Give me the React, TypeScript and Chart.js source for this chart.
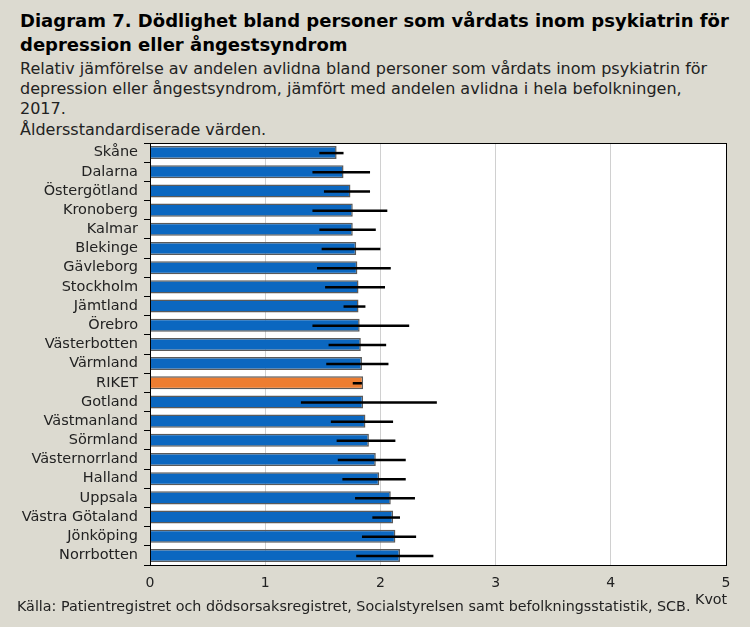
import React, { useEffect, useRef } from "react";
import { Chart, registerables } from "chart.js";

Chart.register(...registerables);

const categories = [
  "Skåne", "Dalarna", "Östergötland", "Kronoberg", "Kalmar", "Blekinge", "Gävleborg",
  "Stockholm", "Jämtland", "Örebro", "Västerbotten", "Värmland", "RIKET", "Gotland",
  "Västmanland", "Sörmland", "Västernorrland", "Halland", "Uppsala", "Västra Götaland",
  "Jönköping", "Norrbotten",
];
const values = [1.62, 1.68, 1.74, 1.76, 1.76, 1.79, 1.8, 1.81, 1.81, 1.82, 1.83, 1.84, 1.85, 1.85,
  1.87, 1.9, 1.96, 1.99, 2.09, 2.11, 2.13, 2.17];
const lower = [1.47, 1.41, 1.51, 1.41, 1.47, 1.49, 1.45, 1.52, 1.68, 1.41, 1.55, 1.53, 1.76, 1.31,
  1.57, 1.62, 1.63, 1.67, 1.78, 1.93, 1.84, 1.79];
const upper = [1.68, 1.91, 1.91, 2.06, 1.96, 2.0, 2.09, 2.04, 1.87, 2.25, 2.05, 2.07, 1.84, 2.49,
  2.11, 2.13, 2.22, 2.22, 2.3, 2.17, 2.31, 2.46];
const xTicks = [0, 1, 2, 3, 4, 5];

const FONT = "'DejaVu Sans', sans-serif";
const BG = "#dcdad0";

const plotBgPlugin = {
  id: "plotBg",
  beforeDraw(chart: any) {
    const { ctx, chartArea: a } = chart;
    ctx.save();
    ctx.fillStyle = "#ffffff";
    ctx.fillRect(a.left, a.top, a.right - a.left, a.bottom - a.top);
    ctx.restore();
  },
  afterDraw(chart: any) {
    const { ctx, chartArea: a } = chart;
    ctx.save();
    ctx.strokeStyle = "#000";
    ctx.lineWidth = 1;
    ctx.strokeRect(Math.round(a.left) + 0.5, Math.round(a.top) + 0.5, Math.round(a.right - a.left), Math.round(a.bottom - a.top));
    ctx.restore();
  },
};

const errorBarPlugin = {
  id: "errorBars",
  afterDatasetsDraw(chart: any) {
    const { ctx } = chart;
    const xs = chart.scales.x;
    const meta = chart.getDatasetMeta(0);
    ctx.save();
    ctx.strokeStyle = "#000";
    ctx.lineWidth = 2.5;
    meta.data.forEach((bar: any, i: number) => {
      const y = bar.y + 0.5;
      ctx.beginPath();
      ctx.moveTo(xs.getPixelForValue(lower[i]), y);
      ctx.lineTo(xs.getPixelForValue(upper[i]), y);
      ctx.stroke();
    });
    ctx.restore();
  },
};

export default function App() {
  const ref = useRef<HTMLCanvasElement>(null);
  useEffect(() => {
    const colors = categories.map((c) => (c === "RIKET" ? "#ed7d31" : "#0b67c0"));
    const chart = new Chart(ref.current as HTMLCanvasElement, {
      type: "bar",
      data: {
        labels: categories,
        datasets: [
          {
            data: values,
            backgroundColor: colors,
            borderColor: "#5a5a5a",
            borderWidth: 1.5,
            borderSkipped: "start",
            categoryPercentage: 1,
            barPercentage: 0.68,
          },
        ],
      },
      options: {
        indexAxis: "y",
        animation: false,
        responsive: false,
        maintainAspectRatio: false,
        layout: { padding: { top: 143, right: 24, left: 0, bottom: 0 } },
        plugins: { legend: { display: false }, tooltip: { enabled: false }, title: { display: false } },
        scales: {
          x: {
            min: 0,
            max: 5,
            afterBuildTicks: (s: any) => { s.ticks = xTicks.map((v) => ({ value: v })); },
            afterFit: (s: any) => { s.height = 62; },
            grid: { color: "#d0d0d0", drawTicks: false },
            border: { display: false },
            ticks: { color: "#222", font: { family: FONT, size: 14 }, padding: 10 },
          },
          y: {
            afterFit: (s: any) => { s.width = 150; },
            grid: { display: true, drawOnChartArea: false, offset: true, tickLength: 6, color: "#000" },
            border: { display: false },
            ticks: { color: "#222", font: { family: FONT, size: 14.5 }, padding: 6, autoSkip: false },
          },
        },
      },
      plugins: [plotBgPlugin, errorBarPlugin],
    });
    return () => chart.destroy();
  }, []);

  return (
    <div style={{ position: "fixed", left: 0, top: 0, width: 750, height: 627, background: BG, fontFamily: FONT, color: "#000", overflow: "hidden" }}>
      <div style={{ position: "absolute", left: 20, top: 9, fontSize: 18, fontWeight: 700, lineHeight: "24px", width: 740, whiteSpace: "nowrap" }}>
        Diagram 7. Dödlighet bland personer som vårdats inom psykiatrin för<br />depression eller ångestsyndrom
      </div>
      <div style={{ position: "absolute", left: 20, top: 59, fontSize: 16, lineHeight: "20px", width: 740, whiteSpace: "nowrap", color: "#222" }}>
        Relativ jämförelse av andelen avlidna bland personer som vårdats inom psykiatrin för<br />
        depression eller ångestsyndrom, jämfört med andelen avlidna i hela befolkningen,<br />
        2017.
      </div>
      <div style={{ position: "absolute", left: 20, top: 120, fontSize: 16, lineHeight: "20px", color: "#222" }}>Åldersstandardiserade värden.</div>
      <canvas ref={ref} width={750} height={627} style={{ position: "absolute", left: 0, top: 0, width: 750, height: 627 }} />
      <div style={{ position: "absolute", left: 695, top: 591, fontSize: 14.3, color: "#222" }}>Kvot</div>
      <div style={{ position: "absolute", left: 17, top: 598, fontSize: 14.3, color: "#222", whiteSpace: "nowrap" }}>
        Källa: Patientregistret och dödsorsaksregistret, Socialstyrelsen samt befolkningsstatistik, SCB.
      </div>
    </div>
  );
}
